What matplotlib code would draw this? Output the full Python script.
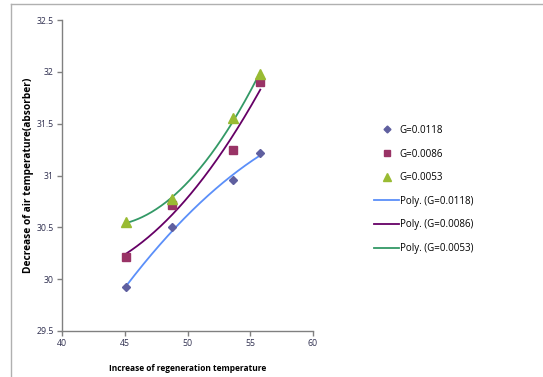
import numpy as np
import matplotlib
matplotlib.use("Agg")
import matplotlib.pyplot as plt
from matplotlib.lines import Line2D

plt.rcParams['font.family'] = ['Open Sans', 'DejaVu Sans']

x_vals = [45.1, 48.8, 53.6, 55.8]
g0118 = [29.92, 30.50, 30.96, 31.22]
g0086 = [30.21, 30.72, 31.25, 31.90]
g0053 = [30.55, 30.77, 31.55, 31.98]
labels = ['G=0.0118', 'G=0.0086', 'G=0.0053']
poly_labels = ['Poly. (G=0.0118)', 'Poly. (G=0.0086)', 'Poly. (G=0.0053)']

marker_colors = ['#5f5f9f', '#993366', '#99bb33']
markers = ['D', 's', '^']
msizes = [4.5, 6, 6.5]
line_colors = ['#5b8ff9', '#660066', '#339966']

fig = plt.figure(figsize=(5.43, 3.77), dpi=100)
ytop = 1 - 3.5/377
xleft = 10.5/543
fig.add_artist(Line2D([xleft, xleft], [0, ytop], transform=fig.transFigure, color='#b0b0b0', lw=1.0))
fig.add_artist(Line2D([xleft, 1], [ytop, ytop], transform=fig.transFigure, color='#b0b0b0', lw=1.0))

ax = fig.add_axes([62/543, 1 - 331/377, (313 - 62)/543, (331 - 20)/377])

series = [g0118, g0086, g0053]
xs = np.array(x_vals)
xf = np.linspace(xs.min(), xs.max(), 200)
handles_m = []
handles_l = []
for ys, lab, plab, mc, mk, ms, lc in zip(series, labels, poly_labels, marker_colors, markers, msizes, line_colors):
    coef = np.polyfit(xs, np.array(ys), 2)
    ax.plot(xf, np.polyval(coef, xf), color=lc, lw=1.3, zorder=3)
    ax.plot(xs, ys, linestyle='none', marker=mk, color=mc, ms=ms, zorder=4)
    handles_m.append(Line2D([], [], linestyle='none', marker=mk, color=mc, ms=ms - 1, label=lab))
    handles_l.append(Line2D([], [], color=lc, lw=1.3, label=plab))

ax.set_xlim(40, 60)
ax.set_ylim(29.5, 32.5)
ax.set_xticks([40, 45, 50, 55, 60])
ax.set_yticks([29.5, 30, 30.5, 31, 31.5, 32, 32.5])
ax.set_yticklabels(['29.5', '30', '30.5', '31', '31.5', '32', '32.5'])
for s in ['top', 'right']:
    ax.spines[s].set_visible(False)
for s in ['left', 'bottom']:
    ax.spines[s].set_color('#808080')
    ax.spines[s].set_linewidth(1.0)
ax.tick_params(direction='out', length=3.5, color='#808080', labelsize=6.3, labelcolor='#303050', width=1.0, pad=2.5)
ax.set_xlabel('Increase of regeneration temperature', fontsize=6, fontweight='bold', labelpad=11)
ax.set_ylabel('Decrease of air temperature(absorber)', fontsize=7.3, fontweight='bold', labelpad=2)

fig.legend(handles=handles_m + handles_l, loc='upper left', bbox_to_anchor=(370/543, 1 - 121/377),
           frameon=False, fontsize=7, labelspacing=1.3, handlelength=2.6, handletextpad=0.05,
           borderaxespad=0)

fig.savefig('out.png', dpi=100)
